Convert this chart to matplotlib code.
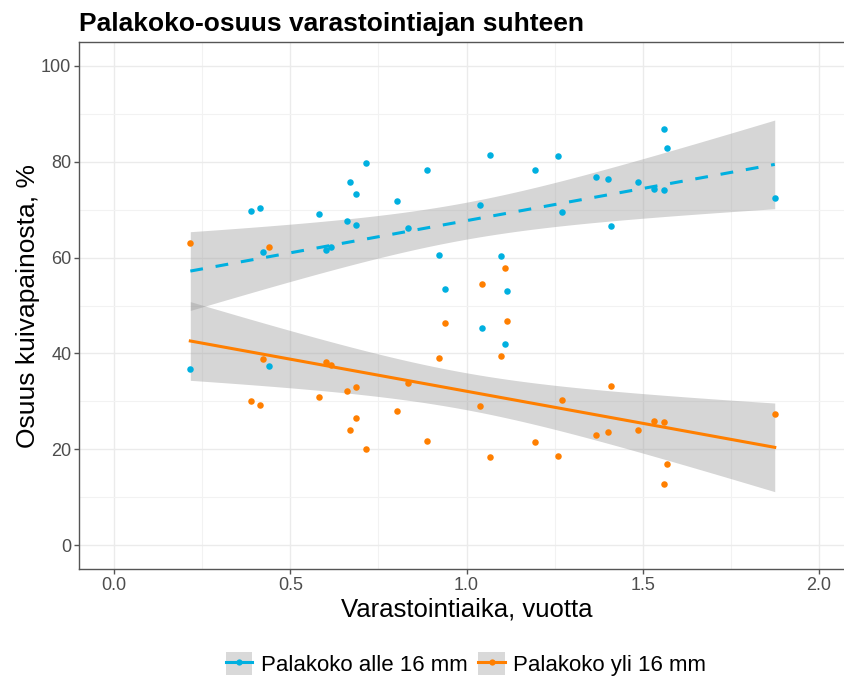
import numpy as np
import matplotlib.pyplot as plt
from matplotlib.lines import Line2D
from matplotlib.patches import Patch
from matplotlib.ticker import MultipleLocator

plt.rcParams["font.family"] = ["Liberation Sans", "DejaVu Sans"]

# storage time (years) and share of dry weight (%)
aika = [0.216, 0.388, 0.415, 0.421, 0.440, 0.580, 0.600, 0.615, 0.661, 0.670,
        0.685, 0.685, 0.716, 0.803, 0.833, 0.888, 0.921, 0.940, 1.038, 1.044,
        1.067, 1.097, 1.110, 1.115, 1.194, 1.259, 1.272, 1.369, 1.402, 1.411,
        1.486, 1.531, 1.561, 1.561, 1.570, 1.875]
alle16 = [36.8, 69.7, 70.4, 61.1, 37.4, 69.0, 61.6, 62.2, 67.6, 75.7,
          66.8, 73.3, 79.7, 71.9, 66.1, 78.3, 60.6, 53.4, 70.9, 45.4,
          81.4, 60.4, 42.0, 53.0, 78.3, 81.2, 69.5, 76.9, 76.4, 66.6,
          75.7, 74.4, 74.2, 86.9, 82.8, 72.4]
yli16 = [63.0, 30.1, 29.3, 38.9, 62.3, 30.8, 38.2, 37.6, 32.2, 24.1,
         32.9, 26.5, 20.0, 27.9, 33.8, 21.7, 39.1, 46.3, 29.1, 54.4,
         18.3, 39.4, 57.8, 46.8, 21.5, 18.6, 30.3, 22.9, 23.6, 33.2,
         24.0, 25.8, 25.6, 12.8, 17.0, 27.4]

sarjat = ["Palakoko alle 16 mm", "Palakoko yli 16 mm"]
varit = ["#00B0E0", "#FF7F00"]
viivat = [(0, (4.2, 4.2)), "-"]


def lm_band(x, y, t=2.03):
    x = np.asarray(x)
    y = np.asarray(y)
    b, a = np.polyfit(x, y, 1)
    n = len(x)
    res = y - (a + b * x)
    s = np.sqrt(np.sum(res ** 2) / (n - 2))
    xs = np.linspace(x.min(), x.max(), 80)
    yhat = a + b * xs
    se = s * np.sqrt(1 / n + (xs - x.mean()) ** 2 / np.sum((x - x.mean()) ** 2))
    return xs, yhat, yhat - t * se, yhat + t * se


fig = plt.figure(figsize=(8.45, 6.77), dpi=100)
ax = fig.add_axes([79 / 845, 1 - 569 / 677, (854 - 79) / 845, 527 / 677])

for y, c, ls in zip([alle16, yli16], varit, viivat):
    xs, yhat, lo, hi = lm_band(aika, y)
    ax.fill_between(xs, lo, hi, color="#999999", alpha=0.4, linewidth=0, zorder=2)
    ax.scatter(aika, y, s=22, color=c, linewidths=0, zorder=3)
    ax.plot(xs, yhat, color=c, linestyle=ls, linewidth=2.2, zorder=4)

ax.set_xlim(-0.1, 2.1)
ax.set_ylim(-5, 105)
ax.xaxis.set_major_locator(MultipleLocator(0.5))
ax.xaxis.set_minor_locator(MultipleLocator(0.25))
ax.yaxis.set_major_locator(MultipleLocator(20))
ax.yaxis.set_minor_locator(MultipleLocator(10))
ax.xaxis.set_major_formatter(plt.FuncFormatter(lambda v, p: f"{v:.1f}"))

ax.grid(which="major", color="#EBEBEB", linewidth=1.0, zorder=0)
ax.grid(which="minor", color="#F2F2F2", linewidth=0.8, zorder=0)
ax.set_axisbelow(True)
for sp in ax.spines.values():
    sp.set_color("#555555")
    sp.set_linewidth(1.0)

ax.tick_params(which="major", length=3.5, width=1.0, color="#555555",
               labelcolor="#4D4D4D", labelsize=13, pad=2)
ax.tick_params(which="minor", length=0)

ax.set_title("Palakoko-osuus varastointiajan suhteen", loc="left",
             fontsize=19, fontweight="bold", pad=8)
ax.set_xlabel("Varastointiaika, vuotta", fontsize=18.5, labelpad=3)
ax.set_ylabel("Osuus kuivapainosta, %", fontsize=19, labelpad=1)

handles = []
for c in varit:
    handles.append((Patch(facecolor="#D9D9D9", edgecolor="none"),
                    Line2D([], [], color=c, linewidth=2.2, marker="o",
                           markersize=4.5, markeredgewidth=0)))
fig.legend(handles, sarjat, loc="center", bbox_to_anchor=(466 / 845, 1 - 664 / 677),
           ncol=2, frameon=False, fontsize=16, handlelength=1.2, handleheight=1.2,
           handletextpad=0.37, columnspacing=0.5)

fig.savefig("out.png", dpi=100)
